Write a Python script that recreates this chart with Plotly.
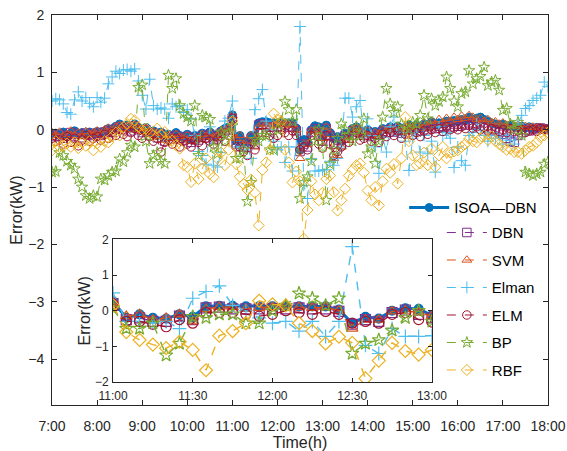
import pandas as pd
import plotly.graph_objects as go

# 5-minute sampling from 7:00 to 18:00
times = pd.date_range("2023-06-01 07:00", "2023-06-01 18:00", freq="5min")

# Prediction error (kW) of each model, one value per 5 minutes
isoa_dbn = [
    -0.08, -0.06, -0.10, -0.04, -0.12, -0.06, -0.02, -0.08, -0.05, -0.10, -0.04, -0.07,
    -0.03, -0.06, -0.02, 0.02, 0.00, 0.06, 0.10, 0.05, 0.08, 0.03, 0.10, 0.04,
    -0.02, 0.04, -0.05, -0.02, -0.10, -0.04, -0.15, -0.08, -0.12, -0.05, -0.10, -0.14,
    -0.08, -0.18, -0.10, -0.14, -0.06, -0.10, -0.04, -0.12, -0.08, -0.02, 0.02, 0.05,
    0.26, -0.20, -0.10, -0.20, -0.22, -0.10, -0.17, 0.12, 0.14, 0.14, 0.12, 0.12,
    0.12, 0.12, 0.12, 0.12, 0.12, 0.03, -0.35, -0.17, -0.22, 0.00, 0.07, 0.05,
    -0.13, 0.08, -0.05, -0.16, -0.12, -0.20, -0.06, -0.10, 0.02, 0.05, -0.02, -0.05,
    0.00, -0.08, -0.03, -0.06, 0.02, 0.00, 0.05, 0.02, 0.06, -0.02, 0.04, 0.08,
    0.05, 0.08, 0.03, 0.10, 0.06, 0.14, 0.08, 0.12, 0.10, 0.15, 0.12, 0.16,
    0.14, 0.18, 0.16, 0.22, 0.18, 0.20, 0.22, 0.18, 0.15, 0.12, 0.10, 0.08,
    0.10, 0.06, 0.08, 0.05, 0.04, 0.06, 0.03, 0.05, 0.02, 0.04, 0.03, 0.02,
    0.02,
]
dbn = [
    -0.10, -0.12, -0.08, -0.15, -0.10, -0.05, -0.12, -0.08, -0.14, -0.06, -0.10, -0.08,
    -0.06, -0.10, -0.04, -0.02, -0.05, 0.02, 0.05, 0.00, 0.04, -0.02, 0.06, 0.00,
    -0.05, 0.00, -0.10, -0.06, -0.14, -0.08, -0.20, -0.12, -0.16, -0.10, -0.15, -0.18,
    -0.12, -0.22, -0.15, -0.18, -0.10, -0.14, -0.08, -0.16, -0.12, -0.06, -0.02, 0.00,
    0.20, -0.25, -0.20, -0.30, -0.30, -0.15, -0.25, 0.08, 0.10, 0.05, 0.05, 0.05,
    0.06, 0.05, 0.08, 0.05, 0.05, -0.02, -0.38, -0.25, -0.30, -0.05, 0.02, -0.10,
    -0.20, 0.02, -0.10, -0.25, -0.18, -0.26, -0.10, -0.15, -0.02, 0.00, -0.06, -0.10,
    -0.04, -0.12, -0.08, -0.10, -0.03, -0.05, 0.00, -0.04, 0.02, -0.06, 0.00, 0.03,
    0.00, 0.03, -0.02, 0.05, 0.00, 0.08, 0.02, 0.06, 0.04, 0.08, 0.05, 0.10,
    0.06, 0.10, 0.08, 0.12, 0.08, 0.10, 0.12, 0.06, 0.02, 0.00, -0.02, -0.05,
    -0.08, -0.15, -0.20, -0.22, -0.10, -0.05, 0.00, -0.02, 0.02, 0.00, 0.03, 0.01,
    0.01,
]
svm = [
    -0.05, -0.10, -0.04, -0.12, -0.08, -0.02, -0.10, -0.05, -0.12, -0.03, -0.08, -0.05,
    -0.02, -0.08, 0.00, 0.03, -0.02, 0.05, 0.08, 0.02, 0.06, 0.00, 0.08, 0.02,
    -0.03, 0.02, -0.08, -0.04, -0.12, -0.06, -0.18, -0.10, -0.15, -0.08, -0.12, -0.16,
    -0.10, -0.20, -0.12, -0.16, -0.08, -0.12, -0.06, -0.14, -0.10, -0.04, 0.00, 0.03,
    0.25, -0.15, -0.10, -0.25, -0.20, -0.10, -0.30, 0.05, 0.10, 0.10, 0.05, 0.08,
    0.10, 0.15, 0.10, 0.08, 0.10, 0.00, -0.50, -0.25, -0.25, -0.02, 0.00, -0.05,
    -0.15, 0.05, -0.08, -0.50, -0.45, -0.30, -0.12, -0.18, 0.00, 0.03, -0.04, -0.08,
    -0.02, -0.10, -0.05, -0.08, 0.00, -0.02, 0.03, 0.00, 0.05, -0.04, 0.03, 0.06,
    0.04, 0.08, 0.02, 0.12, 0.05, 0.15, 0.10, 0.18, 0.12, 0.20, 0.15, 0.22,
    0.18, 0.24, 0.20, 0.25, 0.22, 0.18, 0.20, 0.15, 0.18, 0.12, 0.14, 0.10,
    0.12, 0.08, 0.10, 0.06, 0.08, 0.05, 0.06, 0.04, 0.05, 0.03, 0.04, 0.02,
    0.02,
]
elman = [
    0.50, 0.54, 0.52, 0.45, 0.30, 0.27, 0.52, 0.66, 0.50, 0.56, 0.46, 0.40,
    0.56, 0.48, 0.55, 0.80, 0.92, 1.02, 0.98, 1.04, 1.05, 1.02, 1.06, 0.85,
    0.60, 0.36, 0.88, 0.42, 0.36, 0.38, 0.36, 0.20, 0.45, 0.40, 0.42, 0.30,
    0.35, 0.20, -0.10, -0.38, -0.45, -0.60, 0.05, -0.62, -0.65, -0.40, 0.15, 0.20,
    0.50, -0.30, -0.30, -0.35, -0.30, -0.50, 0.35, 0.54, 0.70, 0.15, 0.00, -0.20,
    -0.35, -0.30, -0.57, -0.30, -0.72, -0.30, 1.80, -0.97, -1.20, -0.50, -0.72, -0.72,
    -0.70, -0.70, -0.55, -0.62, -0.50, -0.30, 0.55, 0.55, 0.22, 0.40, 0.51, -0.13,
    0.19, -0.10, -0.30, -0.76, -0.13, -0.39, 0.05, 0.22, -0.10, -0.05, -0.20, -0.71,
    -0.15, -0.05, -0.39, -0.10, -0.42, -0.20, -0.74, 0.05, -0.10, -0.05, -0.15, -0.66,
    -0.30, -0.54, -0.62, -0.10, -0.05, 0.10, 0.00, -0.10, -0.20, -0.05, -0.15, -0.10,
    -0.25, -0.10, -0.19, -0.25, 0.10, 0.25, 0.37, 0.42, 0.51, 0.55, 0.60, 0.83,
    0.75,
]
elm = [
    -0.15, -0.20, -0.18, -0.25, -0.12, -0.22, -0.15, -0.28, -0.18, -0.10, -0.20, -0.15,
    -0.12, -0.18, -0.08, -0.15, -0.05, -0.10, 0.00, -0.08, -0.12, -0.05, 0.02, -0.10,
    -0.15, -0.05, -0.12, -0.20, -0.15, -0.39, -0.22, -0.18, -0.25, -0.15, -0.30, -0.20,
    -0.25, -0.30, -0.18, -0.22, -0.28, -0.15, -0.20, -0.25, -0.18, -0.12, -0.20, -0.10,
    0.20, -0.30, -0.30, -0.38, -0.45, -0.25, -0.35, -0.05, -0.05, -0.05, -0.10, -0.15,
    -0.10, 0.00, -0.05, -0.10, -0.02, -0.10, -0.35, -0.30, -0.35, -0.10, -0.05, -0.25,
    -0.32, -0.10, -0.25, -0.45, -0.38, -0.30, -0.15, -0.22, -0.10, -0.05, -0.18, -0.15,
    -0.10, -0.20, -0.15, -0.22, -0.08, -0.12, -0.05, -0.10, -0.02, -0.15, -0.08, -0.05,
    -0.10, -0.05, -0.12, -0.02, -0.08, 0.00, -0.05, 0.02, -0.03, 0.05, 0.00, 0.03,
    0.00, 0.05, 0.02, 0.08, 0.03, 0.05, 0.00, 0.04, -0.02, 0.02, 0.00, -0.03,
    0.00, -0.05, 0.02, -0.03, -0.02, 0.00, -0.05, -0.02, 0.00, -0.03, 0.02, 0.00,
    0.00,
]
bp = [
    -0.74, -0.73, -0.40, -0.45, -0.55, -0.62, -0.68, -0.86, -1.00, -1.15, -1.20, -1.15,
    -1.17, -0.86, -0.88, -0.80, -0.74, -0.72, -0.51, -0.56, -0.40, -0.27, -0.30, 0.74,
    0.78, -0.20, -0.59, -0.45, -0.40, -0.55, -0.59, 0.95, 0.72, 0.89, 0.42, 0.28,
    0.22, 0.15, 0.42, -0.45, 0.25, 0.22, 0.18, -0.30, -0.42, -0.04, -0.20, -0.07,
    0.07, -0.50, -0.50, -0.35, -1.25, -0.92, -0.17, -0.20, -0.10, -0.10, -0.35, -0.35,
    0.00, 0.15, 0.49, 0.35, 0.15, 0.35, -1.20, -0.92, -0.82, -0.55, -0.20, 0.00,
    -0.30, -1.23, -0.60, -0.35, -0.15, 0.10, 0.00, -0.10, -0.20, 0.05, -0.10, 0.19,
    -0.42, -0.30, -0.59, -0.20, 0.22, 0.72, 0.45, 0.30, 0.40, 0.10, 0.05, 0.00,
    0.13, 0.10, 0.25, 0.60, 0.19, 0.54, 0.42, 0.49, 0.57, 0.92, 0.72, 0.50,
    0.40, 0.63, 0.66, 1.03, 0.80, 0.89, 0.93, 1.09, 0.77, 0.83, 0.86, 0.69,
    0.34, 0.37, 0.10, 0.00, 0.13, -0.10, -0.74, -0.77, -0.80, -0.77, -0.74, -0.60,
    -0.56,
]
rbf = [
    -0.36, -0.20, -0.30, -0.28, -0.24, -0.30, -0.22, -0.32, -0.22, -0.28, -0.20, -0.36,
    -0.24, -0.30, -0.20, -0.22, -0.12, -0.05, -0.10, 0.05, 0.10, 0.19, 0.16, 0.05,
    0.00, 0.02, -0.05, -0.10, 0.02, -0.08, -0.04, -0.20, -0.19, -0.27, -0.33, -0.62,
    -0.65, -0.91, -0.59, -0.86, -0.68, -0.50, -0.77, -0.83, -0.50, -0.40, -0.62, -0.35,
    0.15, -0.60, -0.82, -0.95, -1.05, -0.87, -1.10, -1.67, -0.70, -0.57, -0.35, 0.28,
    0.18, 0.15, -0.35, -0.57, -0.92, -0.73, -0.90, -1.90, -1.40, -0.90, -1.13, -1.23,
    -1.10, -0.86, -0.80, -1.09, -1.41, -1.23, -1.03, -0.80, -0.70, -0.62, -0.59, -0.75,
    -1.06, -1.23, -1.00, -1.32, -0.90, -0.68, -0.75, -0.60, -0.94, -0.50, 0.22, -0.20,
    -0.45, -0.62, -0.59, -0.40, -0.62, -0.33, -0.65, -0.45, -0.30, -0.50, -0.40, -0.38,
    -0.36, -0.30, -0.25, -0.16, -0.20, -0.22, -0.15, -0.10, -0.18, -0.12, -0.20, -0.25,
    -0.30, -0.35, -0.33, -0.39, -0.39, -0.42, -0.36, -0.30, -0.28, -0.22, -0.13, -0.10,
    -0.05,
]

hour_labels = ["7:00", "8:00", "9:00", "10:00", "11:00", "12:00",
               "13:00", "14:00", "15:00", "16:00", "17:00", "18:00"]
inset_labels = ["11:00", "11:30", "12:00", "12:30", "13:00"]
y_ticks = [2, 1, 0, -1, -2, -3, -4]
inset_y_ticks = [2, 1, 0, -1, -2]

FONT = "Liberation Sans, Arial, sans-serif"
INK = "#262626"

# name, values, colour, marker symbol, line dash
series = [
    ("ISOA—DBN", isoa_dbn, "#0072BD", "circle", "solid"),
    ("DBN", dbn, "#7E2F8E", "square-open", "dash"),
    ("SVM", svm, "#D95319", "triangle-up-open", "dash"),
    ("Elman", elman, "#4DBEEE", "cross-thin-open", "dash"),
    ("ELM", elm, "#A2142F", "circle-open", "dash"),
    ("BP", bp, "#77AC30", "star-open", "dash"),
    ("RBF", rbf, "#EDB120", "diamond-open", "dash"),
]

day = times[0].normalize()
zoom_start = day + pd.Timedelta(hours=11)
zoom_end = day + pd.Timedelta(hours=13)
in_zoom = (times >= zoom_start) & (times <= zoom_end)

fig = go.Figure()

# full-day traces
for name, vals, color, symbol, dash in series:
    main = name == "ISOA—DBN"
    fig.add_trace(go.Scatter(
        x=times, y=vals, name=name, mode="lines+markers",
        line=dict(color=color, width=3 if main else 1, dash=dash),
        marker=dict(symbol=symbol, size=8 if main else 8.5, color=color,
                    line=dict(color=color, width=1)),
        legend="legend" if main else "legend2",
        legendgroup=name,
        xaxis="x", yaxis="y",
    ))

# zoomed view 11:00-13:00
z_times = times[in_zoom]
for name, vals, color, symbol, dash in series:
    main = name == "ISOA—DBN"
    z_vals = [v for v, keep in zip(vals, in_zoom) if keep]
    fig.add_trace(go.Scatter(
        x=z_times, y=z_vals, name=name, mode="lines+markers", showlegend=False,
        line=dict(color=color, width=3 if main else 1.4, dash=dash),
        marker=dict(symbol=symbol, size=9 if main else 10, color=color,
                    line=dict(color=color, width=1.2)),
        xaxis="x2", yaxis="y2",
    ))

hour_ticks = pd.date_range(day + pd.Timedelta(hours=7), day + pd.Timedelta(hours=18), freq="1h")
half_ticks = pd.date_range(zoom_start, zoom_end, freq="30min")

axis_common = dict(
    showline=True, linecolor=INK, linewidth=1, mirror="ticks",
    ticks="inside", tickcolor=INK, tickwidth=1,
    showgrid=False, zeroline=False, automargin=False,
)

fig.update_layout(
    width=567, height=451,
    margin=dict(l=52, r=19, t=15, b=46),
    paper_bgcolor="white", plot_bgcolor="white",
    font=dict(family=FONT, color=INK),
    xaxis=dict(
        **axis_common, domain=[0, 1], anchor="y",
        range=[hour_ticks[0], hour_ticks[-1]],
        tickvals=hour_ticks, ticktext=hour_labels, ticklen=5,
        tickfont=dict(size=14, color=INK), ticklabelstandoff=8,
        title=dict(text="Time(h)", font=dict(size=16, color=INK), standoff=3),
    ),
    yaxis=dict(
        **axis_common, domain=[0, 1], anchor="x",
        range=[-4.8, 2], tickvals=y_ticks, ticklen=5,
        tickfont=dict(size=14, color=INK), ticklabelstandoff=4,
        title=dict(text="Error(kW)", font=dict(size=16, color=INK), standoff=1),
    ),
    xaxis2=dict(
        **axis_common, domain=[0.123, 0.766], anchor="y2",
        range=[zoom_start, zoom_end],
        tickvals=half_ticks, ticktext=inset_labels, ticklen=4,
        tickfont=dict(size=12, color=INK), ticklabelstandoff=3,
    ),
    yaxis2=dict(
        **axis_common, domain=[0.059, 0.4244], anchor="x2",
        range=[-2, 2], tickvals=inset_y_ticks, ticklen=4,
        tickfont=dict(size=12, color=INK), ticklabelstandoff=1,
        title=dict(text="Error(kW)", font=dict(size=16, color=INK), standoff=0),
    ),
    legend=dict(
        x=0.710, y=0.548, xanchor="left", yanchor="top",
        bgcolor="rgba(0,0,0,0)", borderwidth=0, itemwidth=40,
        font=dict(size=15, family=FONT, color="black"),
    ),
    legend2=dict(
        x=0.786, y=0.484, xanchor="left", yanchor="top",
        bgcolor="rgba(0,0,0,0)", borderwidth=0, itemwidth=40,
        font=dict(size=15, family=FONT, color="black"),
        traceorder="grouped", tracegroupgap=5,
    ),
    shapes=[dict(
        type="rect", xref="x2", yref="y2", layer="below",
        x0=zoom_start, x1=zoom_end, y0=-2, y1=2,
        fillcolor="white", line=dict(width=0),
    )],
)

fig.write_html("out.html")
